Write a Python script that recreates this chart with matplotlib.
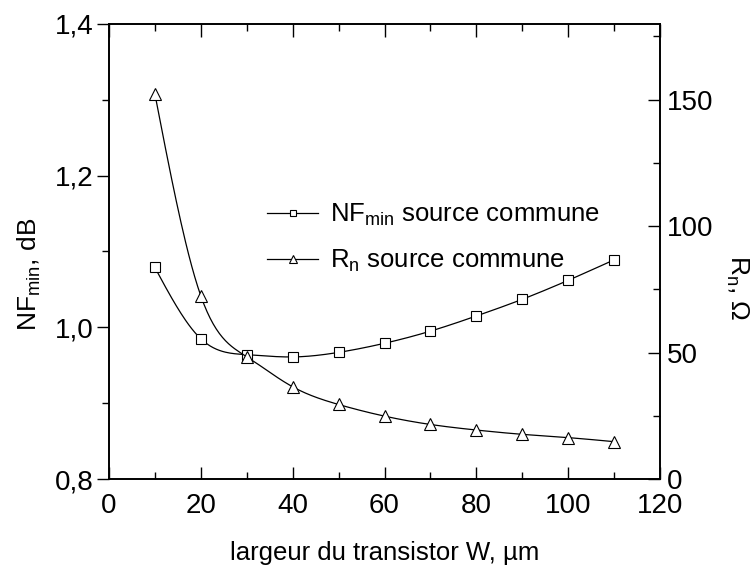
import matplotlib
matplotlib.use("Agg")
import matplotlib.pyplot as plt
import numpy as np
from matplotlib.ticker import FuncFormatter, MultipleLocator

plt.rcParams["font.family"] = ["Liberation Sans", "DejaVu Sans"]
plt.rcParams["mathtext.fontset"] = "custom"
plt.rcParams["mathtext.rm"] = "Liberation Sans"
plt.rcParams["mathtext.it"] = "Liberation Sans"

# transistor width, um
width_um = [10, 20, 30, 40, 50, 60, 70, 80, 90, 100, 110]
# minimum noise figure, dB (left axis)
nf_min_db = [1.079, 0.985, 0.964, 0.961, 0.967, 0.979, 0.995, 1.015, 1.037, 1.062, 1.089]
# noise resistance, ohm (right axis)
rn_ohm = [152.4, 72.5, 48.4, 36.5, 29.5, 24.9, 21.6, 19.4, 17.7, 16.4, 14.8]


def smooth_line(x, y, n=300):
    # natural cubic spline, only used to draw the connecting curve
    x = np.asarray(x, float)
    y = np.asarray(y, float)
    k = len(x)
    h = np.diff(x)
    a = np.zeros((k, k))
    b = np.zeros(k)
    a[0, 0] = a[-1, -1] = 1.0
    for i in range(1, k - 1):
        a[i, i - 1] = h[i - 1]
        a[i, i] = 2 * (h[i - 1] + h[i])
        a[i, i + 1] = h[i]
        b[i] = 6 * ((y[i + 1] - y[i]) / h[i] - (y[i] - y[i - 1]) / h[i - 1])
    m = np.linalg.solve(a, b)
    xs = np.linspace(x[0], x[-1], n)
    idx = np.clip(np.searchsorted(x, xs) - 1, 0, k - 2)
    x0, x1 = x[idx], x[idx + 1]
    hh = x1 - x0
    t0, t1 = x1 - xs, xs - x0
    ys = (m[idx] * t0**3 + m[idx + 1] * t1**3) / (6 * hh) \
        + (y[idx] / hh - m[idx] * hh / 6) * t0 \
        + (y[idx + 1] / hh - m[idx + 1] * hh / 6) * t1
    return xs, ys


fig = plt.figure(figsize=(7.51, 5.67), dpi=100)
ax = fig.add_axes([0.145, 0.155, 0.734, 0.803])
ax2 = ax.twinx()

lw = 0.9
xs, ys = smooth_line(width_um, nf_min_db)
ax.plot(xs, ys, color="black", lw=lw)
ax.plot(width_um, nf_min_db, ls="none", marker="s", ms=6.5, mfc="white",
        mec="black", mew=0.8)
xs, ys = smooth_line(width_um, rn_ohm)
ax2.plot(xs, ys, color="black", lw=lw)
ax2.plot(width_um, rn_ohm, ls="none", marker="^", ms=8, mfc="white",
         mec="black", mew=0.8)

# legend handles
h1, = ax.plot([], [], color="black", lw=lw, marker="s", ms=5, mfc="white",
              mec="black", mew=0.8)
h2, = ax.plot([], [], color="black", lw=lw, marker="^", ms=6, mfc="white",
              mec="black", mew=0.8)
ax.legend([h1, h2], ["NF$_{min}$ source commune", "R$_n$ source commune"],
          loc="center left", bbox_to_anchor=(0.287, 0.53), frameon=False,
          borderpad=0, borderaxespad=0,
          fontsize=18.5, handlelength=2.0, handletextpad=0.45, labelspacing=0.77)

ax.set_xlim(0, 120)
ax.set_ylim(0.8, 1.4)
ax2.set_ylim(0, 180)

ax.xaxis.set_major_locator(MultipleLocator(20))
ax.xaxis.set_minor_locator(MultipleLocator(10))
ax.yaxis.set_major_locator(MultipleLocator(0.2))
ax.yaxis.set_minor_locator(MultipleLocator(0.1))
ax.yaxis.set_major_formatter(FuncFormatter(lambda v, p: f"{v:.1f}".replace(".", ",")))
ax2.yaxis.set_major_locator(MultipleLocator(50))
ax2.yaxis.set_minor_locator(MultipleLocator(25))

ax.tick_params(axis="x", which="both", direction="in", top=True, labelsize=20, pad=10)
ax.tick_params(axis="x", which="major", length=9, width=1)
ax.tick_params(axis="x", which="minor", length=5, width=1)
ax.tick_params(axis="y", which="both", direction="out", labelsize=20, pad=2)
ax.tick_params(axis="y", which="major", length=9, width=1)
ax.tick_params(axis="y", which="minor", length=5, width=1)
ax2.tick_params(axis="y", which="both", direction="in", labelsize=20, pad=5)
ax2.tick_params(axis="y", which="major", length=9, width=1)
ax2.tick_params(axis="y", which="minor", length=5, width=1)

for a in (ax, ax2):
    for s in a.spines.values():
        s.set_linewidth(1.2)

ax.set_xlabel("largeur du transistor W, µm", fontsize=18.5)
ax.xaxis.set_label_coords(0.5, -0.135)
ax.set_ylabel("NF$_{min}$, dB", fontsize=19)
ax.yaxis.set_label_coords(-0.12, 0.45)
ax2.set_ylabel("R$_n$, Ω", fontsize=19, rotation=270, va="center")
ax2.yaxis.set_label_coords(1.14, 0.42)

fig.savefig("out.png", dpi=100)
